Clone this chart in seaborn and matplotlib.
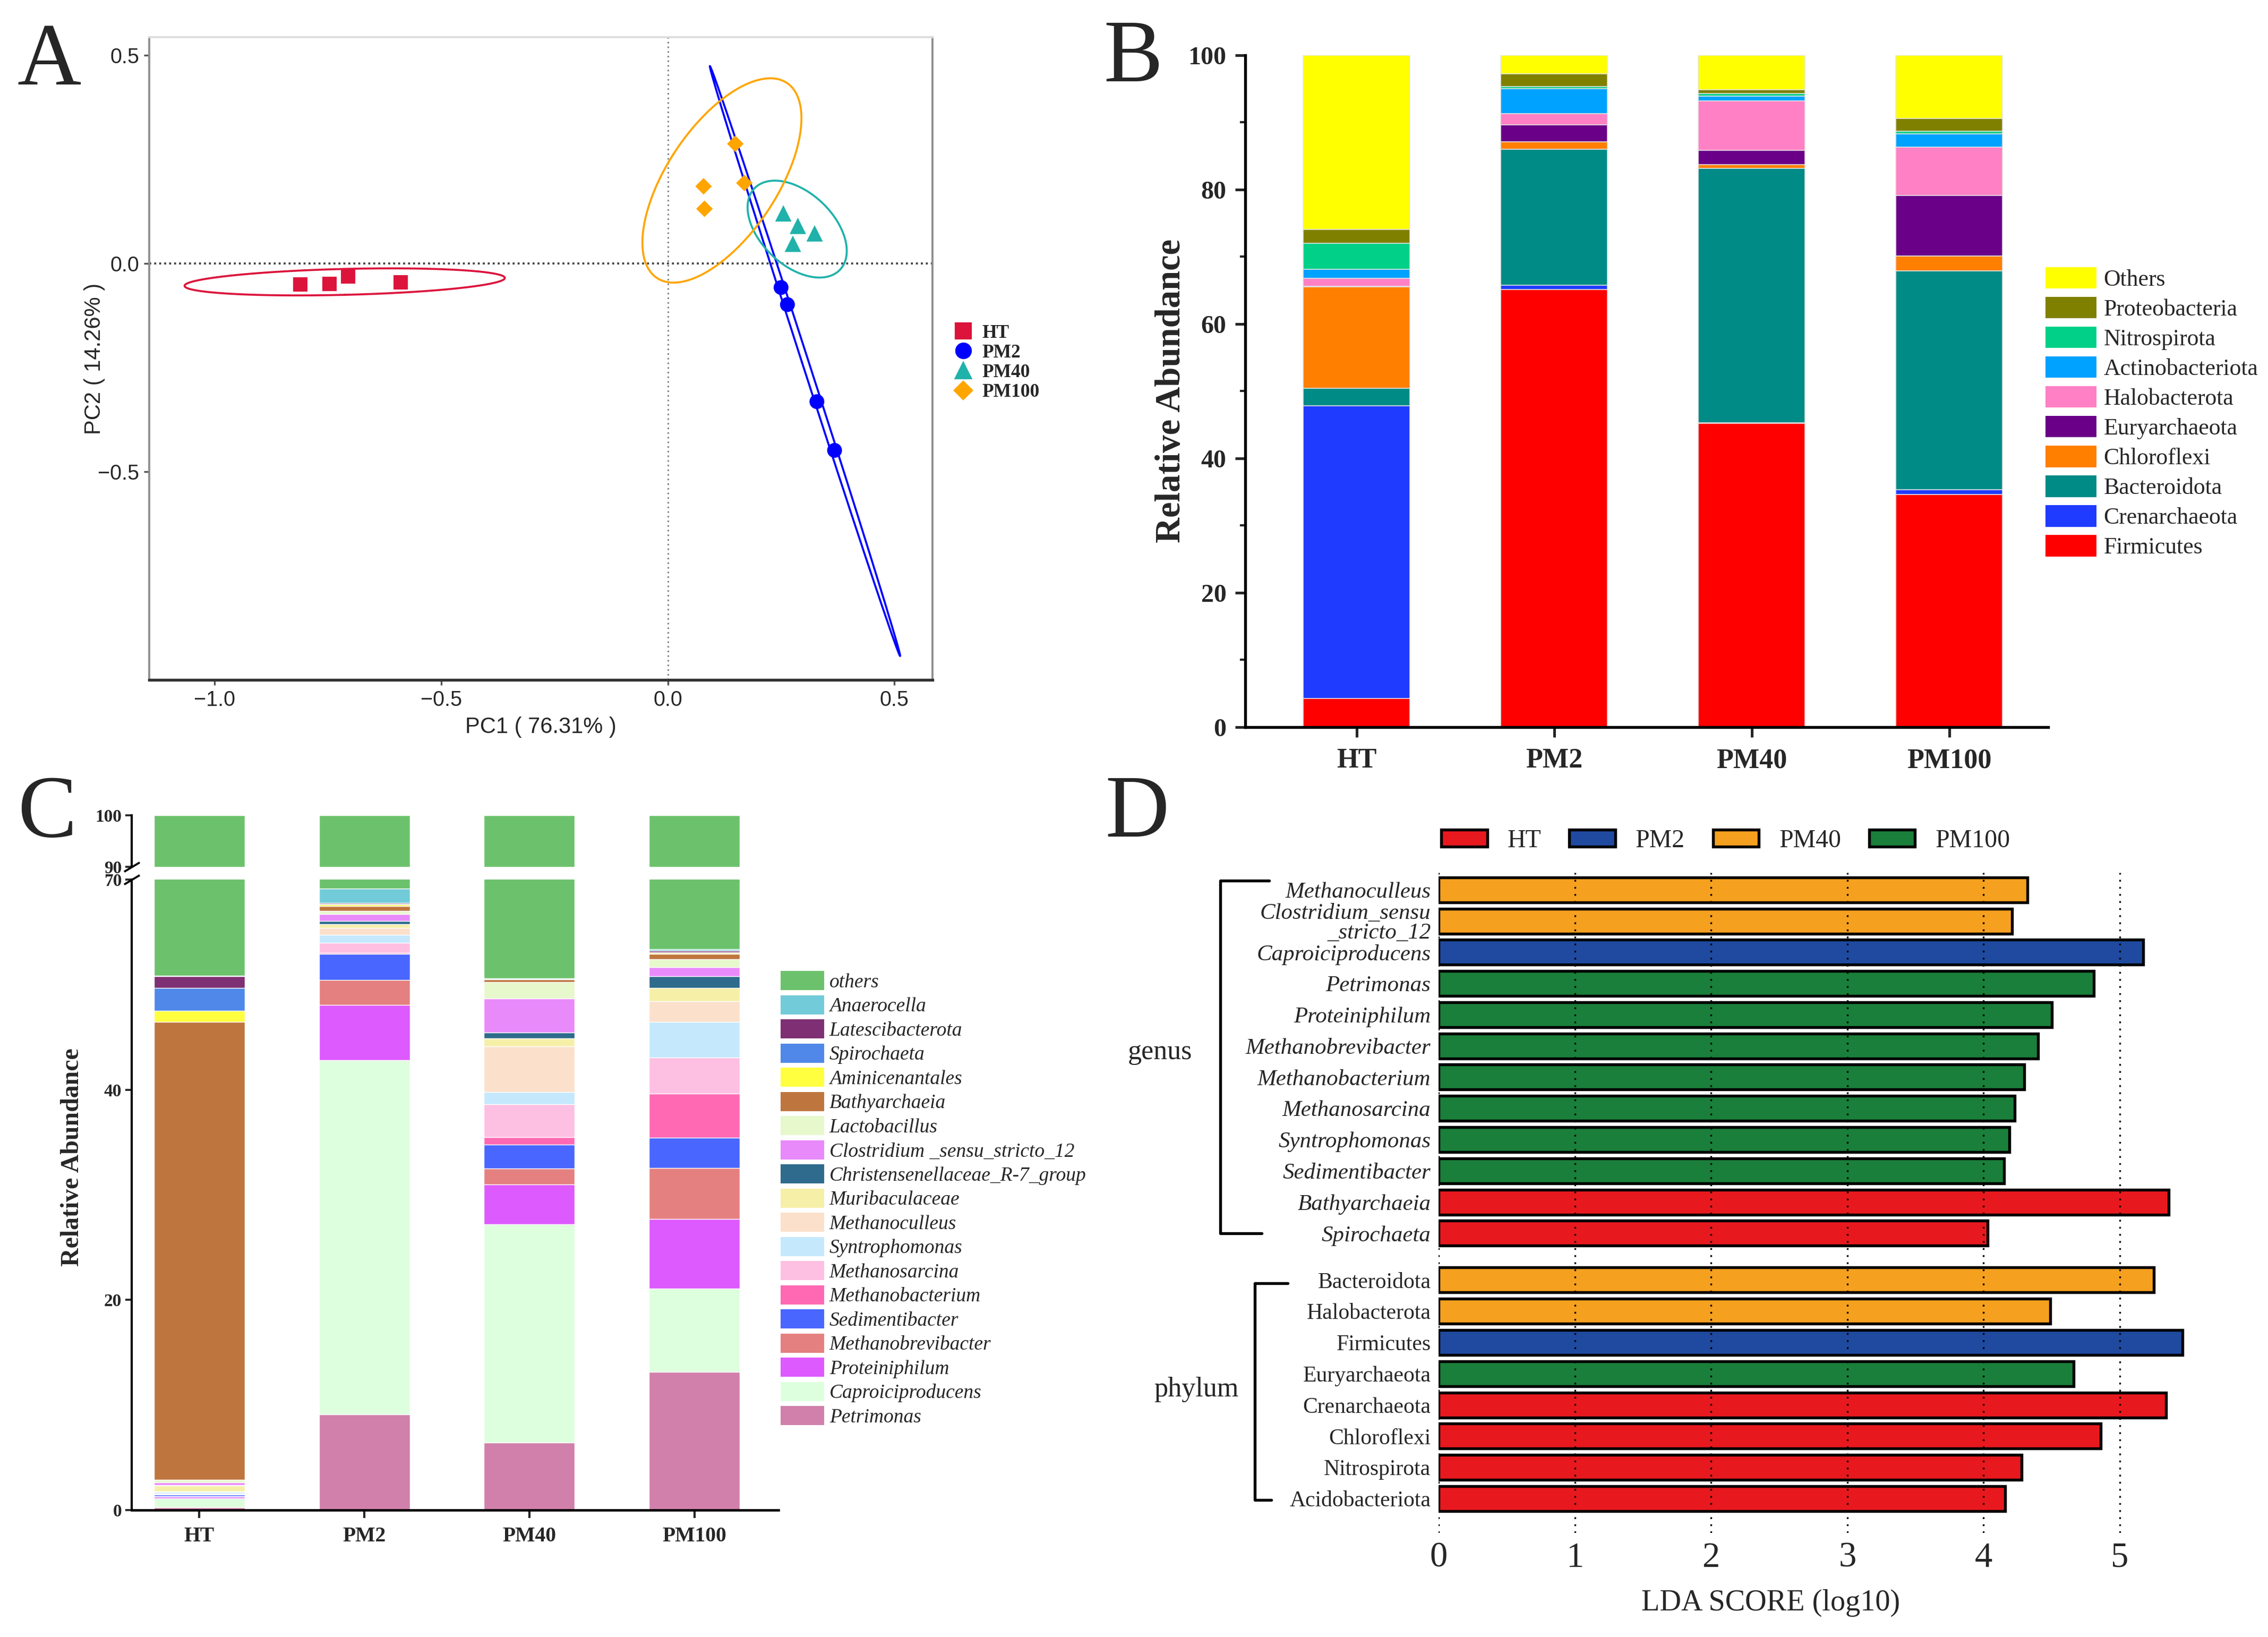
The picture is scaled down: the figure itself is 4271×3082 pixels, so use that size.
import numpy as np
import pandas as pd
import matplotlib
matplotlib.use("Agg")
import matplotlib.pyplot as plt
from matplotlib.patches import Patch
from matplotlib.lines import Line2D
from matplotlib.transforms import blended_transform_factory
import seaborn as sns

# ---------------- data ----------------
groups = ["HT", "PM2", "PM40", "PM100"]

# A: PCoA scores (4 replicates per group)
pc1_HT = [-0.811, -0.746, -0.705, -0.589]
pc2_HT = [-0.051, -0.049, -0.032, -0.046]
pc1_PM2 = [0.250, 0.264, 0.329, 0.368]
pc2_PM2 = [-0.058, -0.099, -0.332, -0.449]
pc1_PM40 = [0.255, 0.287, 0.324, 0.276]
pc2_PM40 = [0.120, 0.090, 0.072, 0.047]
pc1_PM100 = [0.149, 0.079, 0.169, 0.081]
pc2_PM100 = [0.287, 0.185, 0.193, 0.131]

# B: phylum relative abundance, stacked bottom -> top
phyla = ["Firmicutes", "Crenarchaeota", "Bacteroidota", "Chloroflexi", "Euryarchaeota",
         "Halobacterota", "Actinobacteriota", "Nitrospirota", "Proteobacteria", "Others"]
phylum_HT = [4.2, 43.6, 2.6, 15.1, 0.1, 1.2, 1.3, 3.9, 2.0, 26.0]
phylum_PM2 = [65.1, 0.6, 20.3, 1.1, 2.5, 1.7, 3.7, 0.3, 1.9, 2.8]
phylum_PM40 = [45.2, 0.1, 37.8, 0.6, 2.1, 7.4, 0.7, 0.4, 0.5, 5.2]
phylum_PM100 = [34.6, 0.7, 32.6, 2.2, 9.0, 7.2, 2.0, 0.4, 1.9, 9.4]

# C: genus relative abundance, stacked bottom -> top
genera = ["Petrimonas", "Caproiciproducens", "Proteiniphilum", "Methanobrevibacter",
          "Sedimentibacter", "Methanobacterium", "Methanosarcina", "Syntrophomonas",
          "Methanoculleus", "Muribaculaceae", "Christensenellaceae_R-7_group",
          "Clostridium _sensu_stricto_12", "Lactobacillus", "Bathyarchaeia",
          "Aminicenantales", "Spirochaeta", "Latescibacterota", "Anaerocella", "others"]
genus_HT = [0.25, 0.84, 0.17, 0.05, 0.17, 0.03, 0.05, 0.15, 0.05, 0.58, 0.02, 0.25, 0.25,
            46.84, 1.6, 3.2, 1.7, 0.05, 43.75]
genus_PM2 = [9.1, 35.1, 7.9, 3.6, 3.7, 0.15, 1.45, 1.1, 1.0, 0.5, 0.45, 1.0, 0.45,
             0.7, 0.25, 0.05, 0.2, 2.0, 31.3]
genus_PM40 = [6.4, 20.8, 3.8, 1.5, 2.3, 0.7, 3.1, 1.2, 6.4, 1.1, 0.9, 4.8, 2.4,
              0.35, 0.0, 0.0, 0.0, 0.15, 44.1]
genus_PM100 = [13.13, 7.94, 6.64, 4.84, 2.9, 4.2, 4.96, 5.1, 2.95, 1.9, 1.65, 1.25, 1.2,
               0.7, 0.2, 0.05, 0.2, 0.27, 39.92]

# D: LEfSe LDA scores
lda_taxa = ["Methanoculleus", "Clostridium_sensu\n_stricto_12", "Caproiciproducens",
            "Petrimonas", "Proteiniphilum", "Methanobrevibacter", "Methanobacterium",
            "Methanosarcina", "Syntrophomonas", "Sedimentibacter", "Bathyarchaeia",
            "Spirochaeta", "Bacteroidota", "Halobacterota", "Firmicutes", "Euryarchaeota",
            "Crenarchaeota", "Chloroflexi", "Nitrospirota", "Acidobacteriota"]
lda_level = ["genus"] * 12 + ["phylum"] * 8
lda_group = ["PM40", "PM40", "PM2", "PM100", "PM100", "PM100", "PM100", "PM100", "PM100",
             "PM100", "HT", "HT", "PM40", "PM40", "PM2", "PM100", "HT", "HT", "HT", "HT"]
lda_score = [4.32, 4.21, 5.17, 4.81, 4.50, 4.40, 4.30, 4.23, 4.19, 4.15, 5.36, 4.03,
             5.25, 4.49, 5.46, 4.66, 5.34, 4.86, 4.28, 4.16]

# ---------------- styles ----------------
colA = {"HT": "#DC143C", "PM2": "#0000FF", "PM40": "#20B2AA", "PM100": "#FFA500"}
markA = {"HT": "s", "PM2": "o", "PM40": "^", "PM100": "D"}
sizeA = {"HT": 42, "PM2": 45, "PM40": 55, "PM100": 28}
colB = {"Firmicutes": "#FF0000", "Crenarchaeota": "#1F3BFF", "Bacteroidota": "#008B86",
        "Chloroflexi": "#FF7F00", "Euryarchaeota": "#6A0088", "Halobacterota": "#FF80C4",
        "Actinobacteriota": "#00A2FF", "Nitrospirota": "#00D088",
        "Proteobacteria": "#808000", "Others": "#FFFF00"}
colC = ["#D080AA", "#DEFFDE", "#DD5AFF", "#E58080", "#4966FF", "#FF69B4", "#FDC0E2",
        "#C5E8FC", "#FBE0CB", "#F6EFA8", "#2E6B8C", "#E98AFA", "#E6F8CC", "#BF763E",
        "#FFFF40", "#4F88E8", "#7F2F73", "#72CBD9", "#6CC26C"]
colD = {"HT": "#E8191E", "PM2": "#1F4AA0", "PM40": "#F5A01E", "PM100": "#1A7F3A"}

W, H, DPI = 4271, 3082, 300
SERIF = ["Liberation Serif", "DejaVu Serif"]
SANS = ["Liberation Sans", "DejaVu Sans"]

sns.set_style("ticks")
plt.rcParams["font.family"] = SERIF
plt.rcParams["axes.edgecolor"] = "black"


def fx(px):
    return px / W


def fy(py):
    return 1 - py / H


def axes_box(left, top, right, bottom):
    return [fx(left), fy(bottom), (right - left) / W, (bottom - top) / H]


def conf_ellipse(x, y, level=0.95, n_pts=300):
    # data ellipse, radius from F(2, n-1) quantile (closed form for df1=2)
    x = np.asarray(x, float)
    y = np.asarray(y, float)
    n = len(x)
    cov = np.cov(x, y, ddof=0)
    vals, vecs = np.linalg.eigh(cov)
    d2 = n - 1
    f_q = d2 / 2 * ((1 - level) ** (-2 / d2) - 1)
    r = np.sqrt(2 * f_q)
    t = np.linspace(0, 2 * np.pi, n_pts)
    circ = np.vstack([np.cos(t), np.sin(t)])
    pts = vecs @ (np.sqrt(vals)[:, None] * circ) * r
    return x.mean() + pts[0], y.mean() + pts[1]


fig = plt.figure(figsize=(W / DPI, H / DPI), dpi=DPI)

# ================= A: PCoA =================
axA = fig.add_axes(axes_box(281, 70, 1756, 1280))
dfA = pd.DataFrame({
    "pc1": pc1_HT + pc1_PM2 + pc1_PM40 + pc1_PM100,
    "pc2": pc2_HT + pc2_PM2 + pc2_PM40 + pc2_PM100,
    "group": [g for g in groups for _ in range(4)],
})
axA.axvline(0, color="#808080", lw=0.7, ls=(0, (1, 2)), zorder=1)
axA.axhline(0, color="#404040", lw=0.9, ls=(0, (1, 1.5)), zorder=1)
for g in groups:
    sub = dfA[dfA["group"] == g]
    ex, ey = conf_ellipse(sub["pc1"], sub["pc2"])
    axA.plot(ex, ey, color=colA[g], lw=0.9, zorder=2)
sns.scatterplot(data=dfA, x="pc1", y="pc2", hue="group", style="group", size="group",
                hue_order=groups, style_order=groups, size_order=groups,
                palette=colA, markers=markA, sizes=sizeA,
                linewidth=0, legend=False, ax=axA, zorder=3)
axA.set_xlim(-1.144, 0.584)
axA.set_ylim(-1.0, 0.543)
axA.set_xticks([-1.0, -0.5, 0.0, 0.5])
axA.set_yticks([-0.5, 0.0, 0.5])
axA.tick_params(length=2.5, width=0.8, pad=2, labelsize=9.5, color="#555555")
for lbl in axA.get_xticklabels() + axA.get_yticklabels():
    lbl.set_fontfamily(SANS)
axA.set_xlabel("PC1 ( 76.31% )", family=SANS, fontsize=10, labelpad=3)
axA.set_ylabel("PC2 ( 14.26% )", family=SANS, fontsize=10)
axA.yaxis.set_label_coords(-0.056, 0.5)
axA.spines["top"].set_color("#dcdcdc")
axA.spines["right"].set_color("#8c8c8c")
axA.spines["left"].set_color("#8c8c8c")
axA.spines["bottom"].set_color("#333333")
for s in ["top", "right", "left"]:
    axA.spines[s].set_linewidth(0.9)
axA.spines["bottom"].set_linewidth(1.3)
handlesA = [Line2D([], [], marker=markA[g], ls="", color=colA[g],
                   markersize=6.5 if g != "PM100" else 5.5) for g in groups]
axA.legend(handlesA, groups, loc="center left", bbox_to_anchor=(fx(1796), fy(683)),
           bbox_transform=fig.transFigure, frameon=False, borderpad=0, borderaxespad=0,
           handlelength=1.0, handletextpad=0.5, labelspacing=0.12,
           prop={"family": SERIF, "weight": "bold", "size": 8.5})

# ================= B: phylum stacked bars =================
axB = fig.add_axes(axes_box(2345, 103.6, 3857, 1368.6))
tabB = pd.DataFrame([phylum_HT, phylum_PM2, phylum_PM40, phylum_PM100],
                    index=groups, columns=phyla)
cumB = tabB.cumsum(axis=1)
for name in reversed(phyla):
    sns.barplot(x=cumB.index, y=cumB[name].values, color=colB[name], saturation=1,
                width=0.54, edgecolor="#e6e6e6", linewidth=0.4, ax=axB)
axB.set_xlim(-0.563, 3.5)
axB.set_ylim(0, 100)
axB.set_yticks(range(0, 101, 20))
axB.set_yticks(range(10, 100, 20), minor=True)
sns.despine(ax=axB)
for s in ["left", "bottom"]:
    axB.spines[s].set_linewidth(1.3)
axB.tick_params(axis="both", which="major", length=4.5, width=1.2, labelsize=11.5, pad=4)
axB.tick_params(axis="y", which="minor", length=2.5, width=1.0)
axB.tick_params(axis="x", labelsize=12.5, pad=5)
for lbl in axB.get_xticklabels() + axB.get_yticklabels():
    lbl.set_fontweight("bold")
axB.set_xlabel("")
axB.set_ylabel("Relative Abundance", fontsize=16, fontweight="bold")
axB.yaxis.set_label_coords(-0.072, 0.5)
handlesB = [Patch(facecolor=colB[n], edgecolor="none") for n in reversed(phyla)]
axB.legend(handlesB, list(reversed(phyla)), loc="center left",
           bbox_to_anchor=(fx(3852), fy(777)), bbox_transform=fig.transFigure,
           frameon=False, borderpad=0, borderaxespad=0, fontsize=10.5,
           handlelength=2.2, handleheight=1.05, handletextpad=0.3, labelspacing=0.27)

# ================= C: genus stacked bars with broken axis =================
axC = fig.add_axes(axes_box(248, 1656, 1466, 2843))
axC2 = fig.add_axes(axes_box(248, 1535, 1466, 1632))
tabC = pd.DataFrame([genus_HT, genus_PM2, genus_PM40, genus_PM100],
                    index=groups, columns=genera)
cumC = tabC.cumsum(axis=1)
for ax in (axC, axC2):
    for name, col in zip(reversed(genera), reversed(colC)):
        sns.barplot(x=cumC.index, y=cumC[name].values, color=col, saturation=1,
                    width=0.55, edgecolor="white", linewidth=0.35, ax=ax)
    ax.set_xlim(-0.41, 3.51)
    ax.set_xlabel("")
    ax.set_ylabel("")


def seg_fwd(y):
    y = np.asarray(y, float)
    return np.where(y <= 40, y, 40 + (y - 40) * 2 / 3)


def seg_inv(t):
    t = np.asarray(t, float)
    return np.where(t <= 40, t, 40 + (t - 40) * 1.5)


axC.set_yscale("function", functions=(seg_fwd, seg_inv))
axC.set_ylim(0, 70)
axC.set_yticks([0, 20, 40, 70])
axC.yaxis.set_minor_locator(matplotlib.ticker.NullLocator())
axC.yaxis.set_major_formatter(matplotlib.ticker.FormatStrFormatter("%d"))
axC2.set_ylim(90, 100)
axC2.set_yticks([90, 100])
axC2.yaxis.set_major_formatter(matplotlib.ticker.FormatStrFormatter("%d"))
sns.despine(ax=axC)
sns.despine(ax=axC2, bottom=True)
axC2.tick_params(axis="x", bottom=False, labelbottom=False)
for ax in (axC, axC2):
    ax.spines["left"].set_linewidth(1.0)
    ax.tick_params(axis="y", length=3, width=0.9, labelsize=8, pad=1.5)
axC.spines["bottom"].set_linewidth(1.1)
axC.tick_params(axis="x", length=3.5, width=1.0, labelsize=9.5, pad=4)
for lbl in (axC.get_xticklabels() + axC.get_yticklabels() + axC2.get_yticklabels()):
    lbl.set_fontweight("bold")
axC.set_ylabel("Relative Abundance", fontsize=11.5, fontweight="bold")
axC.yaxis.set_label_coords(-0.074, 0.56)
# break marks on the y axis
brk = dict(marker=[(-1, -0.6), (1, 0.6)], markersize=7, ls="none", color="k",
           mec="k", mew=0.9, clip_on=False)
axC2.plot([0], [0], transform=axC2.transAxes, **brk)
axC.plot([0], [1], transform=axC.transAxes, **brk)
handlesC = [Patch(facecolor=c, edgecolor="none") for c in reversed(colC)]
axC.legend(handlesC, list(reversed(genera)), loc="center left",
           bbox_to_anchor=(fx(1470), fy(2257)), bbox_transform=fig.transFigure,
           frameon=False, borderpad=0, borderaxespad=0,
           prop={"family": SERIF, "style": "italic", "size": 9},
           handlelength=2.2, handleheight=1.1, handletextpad=0.25, labelspacing=0.18)

# ================= D: LDA scores =================
axD = fig.add_axes(axes_box(2709, 1643, 4146, 2886))
row_pos = [i if lev == "genus" else i + 0.5 for i, lev in enumerate(lda_level)]
dfD = pd.DataFrame({"taxon": lda_taxa, "score": lda_score, "group": lda_group,
                    "pos": row_pos})
sns.barplot(data=dfD, x="score", y="pos", hue="group", hue_order=groups, palette=colD,
            orient="y", native_scale=True, dodge=False, width=0.8, saturation=1,
            edgecolor="black", linewidth=1.3, errorbar=None, legend=False, ax=axD)
axD.set_xlim(0, 5.6)
axD.set_ylim(20.6, -0.55)
axD.set_xticks(range(0, 6))
axD.set_yticks(row_pos)
axD.set_yticklabels(lda_taxa)
for lbl, lev in zip(axD.get_yticklabels(), lda_level):
    lbl.set_fontstyle("italic" if lev == "genus" else "normal")
    lbl.set_fontsize(10.3 if lev == "genus" else 10)
    lbl.set_linespacing(0.95)
axD.tick_params(axis="y", length=0, pad=3.5)
axD.tick_params(axis="x", length=0, pad=4, labelsize=16)
for s in axD.spines.values():
    s.set_visible(False)
axD.set_axisbelow(False)
axD.grid(axis="x", color="black", ls=(0, (1, 3)), lw=0.8)
axD.grid(axis="y", visible=False)
axD.set_ylabel("")
axD.set_xlabel("LDA SCORE (log10)", fontsize=13.5)
axD.xaxis.set_label_coords(0.435, -0.085)

# group brackets
tr = blended_transform_factory(fig.transFigure, axD.transData)
bk = dict(color="black", lw=1.3, transform=tr, clip_on=False)
axD.plot([fx(2390), fx(2298), fx(2298), fx(2376)], [-0.3, -0.3, 11.0, 11.0], **bk)
axD.plot([fx(2425), fx(2363), fx(2363), fx(2394)], [12.6, 12.6, 19.55, 19.55], **bk)
axD.text(fx(2184), 5.2, "genus", transform=tr, ha="center", va="center", fontsize=12.5)
axD.text(fx(2253), 16.0, "phylum", transform=tr, ha="center", va="center", fontsize=12.5)

handlesD = [Patch(facecolor=colD[g], edgecolor="black", linewidth=1.3) for g in groups]
fig.legend(handlesD, groups, loc="center", bbox_to_anchor=(fx(3250), fy(1583)), ncol=4,
           frameon=False, fontsize=11.5, handlelength=1.8, handleheight=0.65,
           handletextpad=0.8, columnspacing=1.1)

# panel letters
for letter, x0, base in [("A", 32, 159), ("B", 2078, 153), ("C", 33, 1575), ("D", 2081, 1575)]:
    fig.text(fx(x0), fy(base), letter, fontsize=40, ha="left", va="baseline")

fig.savefig("out.png", dpi=DPI)
